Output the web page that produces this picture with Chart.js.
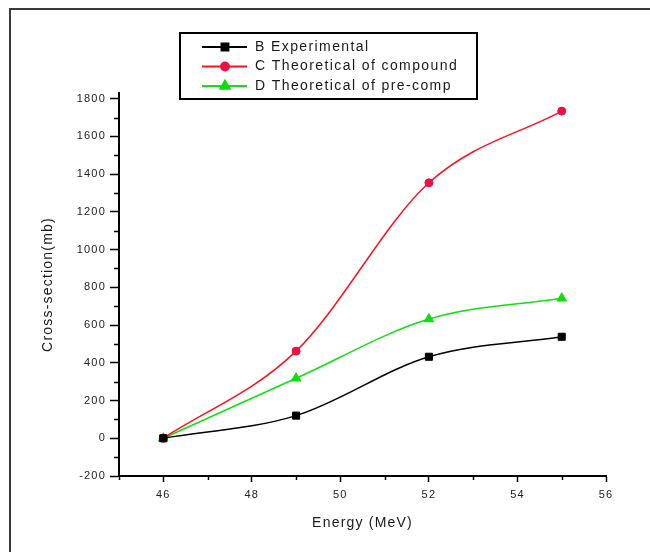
<!DOCTYPE html>
<html>
<head>
<meta charset="utf-8">
<title>Cross-section vs Energy</title>
<script src="https://cdn.jsdelivr.net/npm/chart.js"></script>
<style>
  html, body { margin: 0; padding: 0; background: #fff; }
  #wrap { position: relative; width: 650px; height: 552px; }
</style>
</head>
<body>
<div id="wrap"><canvas id="chart" width="650" height="552"></canvas></div>
<script>
// values
const energy = [46, 49, 52, 55];
const experimental = [0, 120, 432, 538];
const compound = [0, 462, 1354, 1734];
const precomp = [0, 318, 632, 742];

const seriesLabels = ['B Experimental', 'C Theoretical of compound', 'D Theoretical of pre-comp'];

const xTicks = [46, 48, 50, 52, 54, 56];
const xMinorTicks = [45, 47, 49, 51, 53, 55];
const yTicks = [-200, 0, 200, 400, 600, 800, 1000, 1200, 1400, 1600, 1800];
const yMinorTicks = [-100, 100, 300, 500, 700, 900, 1100, 1300, 1500, 1700];

const toPoints = ys => energy.map((x, i) => ({ x, y: ys[i] }));

const textFont = "'Liberation Sans', Arial, sans-serif";

// white page with the frame line top and left
const framePlugin = {
  id: 'frame',
  beforeDraw(chart) {
    const ctx = chart.ctx;
    ctx.save();
    ctx.fillStyle = '#fff';
    ctx.fillRect(0, 0, chart.width, chart.height);
    ctx.strokeStyle = '#3a3a3a';
    ctx.lineWidth = 2;
    ctx.beginPath();
    ctx.moveTo(10, chart.height);
    ctx.lineTo(10, 9);
    ctx.lineTo(chart.width, 9);
    ctx.stroke();
    ctx.restore();
    ctx.letterSpacing = '1.2px';
  }
};

// short minor ticks between the labelled ones
const minorTicksPlugin = {
  id: 'minorTicks',
  afterDraw(chart) {
    const { ctx, scales: { x, y } } = chart;
    ctx.save();
    ctx.strokeStyle = '#000';
    ctx.lineWidth = 1.5;
    ctx.beginPath();
    yMinorTicks.forEach(v => {
      const py = Math.round(y.getPixelForValue(v)) + 0.5;
      ctx.moveTo(x.left - 5, py);
      ctx.lineTo(x.left, py);
    });
    xMinorTicks.forEach(v => {
      const px = Math.round(x.getPixelForValue(v)) + 0.5;
      ctx.moveTo(px, y.bottom);
      ctx.lineTo(px, y.bottom + 4);
    });
    ctx.stroke();
    ctx.restore();
  }
};

// boxed legend inside the top of the plot
const boxLegendPlugin = {
  id: 'boxLegend',
  afterDraw(chart) {
    const ctx = chart.ctx;
    const left = 180, top = 33, right = 477, bottom = 99;
    ctx.save();
    ctx.fillStyle = '#fff';
    ctx.fillRect(left, top, right - left, bottom - top);
    ctx.strokeStyle = '#000';
    ctx.lineWidth = 2;
    ctx.strokeRect(left, top, right - left, bottom - top);
    const rows = [47, 66.5, 86];
    chart.data.datasets.forEach((ds, i) => {
      const yy = rows[i];
      ctx.strokeStyle = ds.borderColor;
      ctx.lineWidth = 1.8;
      ctx.beginPath();
      ctx.moveTo(202, yy);
      ctx.lineTo(247, yy);
      ctx.stroke();
      ctx.fillStyle = ds.pointBackgroundColor;
      ctx.strokeStyle = ds.pointBorderColor;
      Chart.helpers.drawPoint(ctx, {
        pointStyle: ds.pointStyle,
        radius: ds.pointRadius,
        rotation: 0,
        borderWidth: 1
      }, 225, yy);
      ctx.fillStyle = '#1a1a1a';
      ctx.font = '14px ' + textFont;
      ctx.letterSpacing = '1.4px';
      ctx.textBaseline = 'middle';
      ctx.textAlign = 'left';
      ctx.fillText(ds.label, 255, yy);
    });
    ctx.restore();
  }
};

new Chart(document.getElementById('chart'), {
  type: 'line',
  data: {
    datasets: [
      {
        label: seriesLabels[0],
        data: toPoints(experimental),
        borderColor: '#000000',
        pointBackgroundColor: '#000000',
        pointBorderColor: '#000000',
        pointStyle: 'rect',
        pointRadius: 5
      },
      {
        label: seriesLabels[1],
        data: toPoints(compound),
        borderColor: '#ff1020',
        pointBackgroundColor: '#ee1040',
        pointBorderColor: '#ee1040',
        pointStyle: 'circle',
        pointRadius: 4
      },
      {
        label: seriesLabels[2],
        data: toPoints(precomp),
        borderColor: '#10e010',
        pointBackgroundColor: '#10dd10',
        pointBorderColor: '#10dd10',
        pointStyle: 'triangle',
        pointRadius: 5.5
      }
    ]
  },
  options: {
    responsive: false,
    animation: false,
    devicePixelRatio: 1,
    layout: { padding: { left: 36, top: 93, right: 44, bottom: 16 } },
    elements: {
      line: { borderWidth: 1.5, cubicInterpolationMode: 'monotone', fill: false },
      point: { borderWidth: 1 }
    },
    plugins: {
      legend: { display: false },
      tooltip: { enabled: false }
    },
    scales: {
      x: {
        type: 'linear',
        min: 45,
        max: 56,
        afterBuildTicks: s => { s.ticks = xTicks.map(v => ({ value: v })); },
        afterFit: s => { s.height = 60; },
        border: { display: true, color: '#000', width: 2 },
        grid: { display: true, drawOnChartArea: false, drawTicks: true, tickLength: 6, tickColor: '#000', tickWidth: 1.5 },
        ticks: { color: '#222', padding: 6, maxRotation: 0, callback: v => String(v), font: { family: textFont, size: 11 } },
        title: { display: true, text: 'Energy (MeV)', color: '#1a1a1a', font: { family: textFont, size: 14 } }
      },
      y: {
        type: 'linear',
        min: -200,
        max: 1830,
        afterBuildTicks: s => { s.ticks = yTicks.map(v => ({ value: v })); },
        afterFit: s => { s.width = 83; },
        border: { display: true, color: '#000', width: 2 },
        grid: { display: true, drawOnChartArea: false, drawTicks: true, tickLength: 9, tickColor: '#000', tickWidth: 1.5 },
        ticks: { color: '#222', padding: 4, callback: v => String(v), font: { family: textFont, size: 11 } },
        title: { display: true, text: 'Cross-section(mb)', color: '#1a1a1a', font: { family: textFont, size: 14 } }
      }
    }
  },
  plugins: [framePlugin, minorTicksPlugin, boxLegendPlugin]
});
</script>
</body>
</html>
